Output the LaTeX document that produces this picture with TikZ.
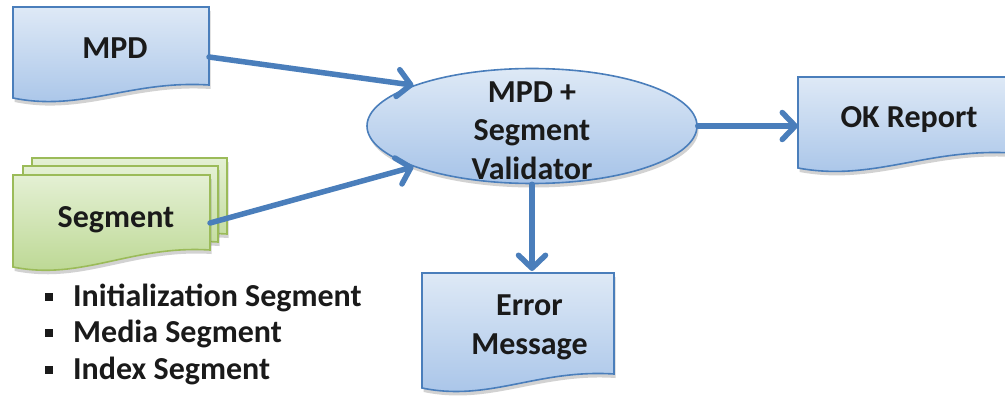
\documentclass[tikz,border=0pt]{standalone}
\usepackage{fontspec}
\setmainfont{Carlito}
\usetikzlibrary{arrows.meta,calc,shadows,shapes.geometric}
\definecolor{bord}{RGB}{74,126,187}
\definecolor{btop}{RGB}{222,233,246}
\definecolor{bbot}{RGB}{166,195,232}
\definecolor{gbord}{RGB}{155,187,89}
\definecolor{gtop}{RGB}{228,240,212}
\definecolor{gbot}{RGB}{185,214,142}
\definecolor{txt}{RGB}{26,26,26}
\newcommand\docshape[3]{%
  \path[#2] (#1.north west) -- (#1.north east) -- ($(#1.south east)+(0,-#3)$)
    .. controls ($(#1.south west)!0.6!(#1.south east)+(0,-#3-5)$) and ($(#1.south west)!0.35!(#1.south east)+(0,14)$) .. (#1.south west) -- cycle;}
\tikzset{
  geom/.style={rectangle, draw=none, inner sep=0pt, outer sep=0pt},
  softshadow/.style={drop shadow={shadow xshift=1.5pt, shadow yshift=-4pt, opacity=0.25, fill=black!70}},
  bluedoc/.style={draw=bord, line width=1.6pt, top color=btop, bottom color=bbot, softshadow},
  greendoc/.style={draw=gbord, line width=1.6pt, top color=gtop, bottom color=gbot, softshadow},
  lbl/.style={font=\fontsize{32}{38.5}\selectfont\bfseries, text=txt, anchor=base, inner sep=0pt},
  conn/.style={draw=bord, line width=5.5pt, line cap=round, -{Straight Barb[length=13pt,width=27pt,round]}},
}
\begin{document}
\begin{tikzpicture}[x=1pt,y=-1pt]
\useasboundingbox (0,0) rectangle (1005,396);
% geometry nodes
\node[geom, minimum width=196pt, minimum height=91pt] (mpd) at (111,52.5) {};
\node[geom, minimum width=195pt, minimum height=92pt] (sega) at (129.5,204) {};
\node[geom, minimum width=195pt, minimum height=92pt] (segb) at (120.5,212) {};
\node[geom, minimum width=197pt, minimum height=92pt] (seg) at (111.5,221) {};
\node[geom, minimum width=214pt, minimum height=91pt] (ok) at (905,122.5) {};
\node[geom, minimum width=192pt, minimum height=115pt] (err) at (518,330.5) {};
% document shapes
\docshape{mpd}{bluedoc}{13}
\docshape{sega}{greendoc}{16}
\docshape{segb}{greendoc}{16}
\docshape{seg}{greendoc}{17}
\docshape{ok}{bluedoc}{15}
\docshape{err}{bluedoc}{14}
% validator
\node[ellipse, draw=bord, line width=1.6pt, top color=btop, bottom color=bbot, softshadow,
  minimum width=330pt, minimum height=115pt, inner sep=0pt] (val) at (532,126) {};
% labels
\node[lbl] (tmpd) at (115,59) {MPD};
\node[lbl] (tseg) at (116,227) {Segment};
\node[lbl] (tok) at (909,128) {OK Report};
\node[lbl, align=center] (terr) at (529.5,354) {Error\\Message};
\node[lbl, align=center] (tval) at (532,179) {MPD +\\Segment\\Validator};
% bullet list
\node[lbl, anchor=base west] (b1) at (73,306) {Initialization Segment};
\node[lbl, anchor=base west] (b2) at (73,342) {Media Segment};
\node[lbl, anchor=base west] (b3) at (73,379) {Index Segment};
\foreach \b in {b1,b2,b3}
  \fill[txt] ($(\b.base west)+(-28.5,-13)$) rectangle ++(8,8);
% connectors
\draw[conn] ($(mpd.east)+(0,4.5)$) -- (val.161);
\draw[conn] ($(seg.east)+(0,2)$) -- (val.199);
\draw[conn] (val.east) -- (val.east -| ok.west);
\draw[conn] (val.south) -- ($(val.south |- err.north)+(0,-2)$);
\end{tikzpicture}
\end{document}
